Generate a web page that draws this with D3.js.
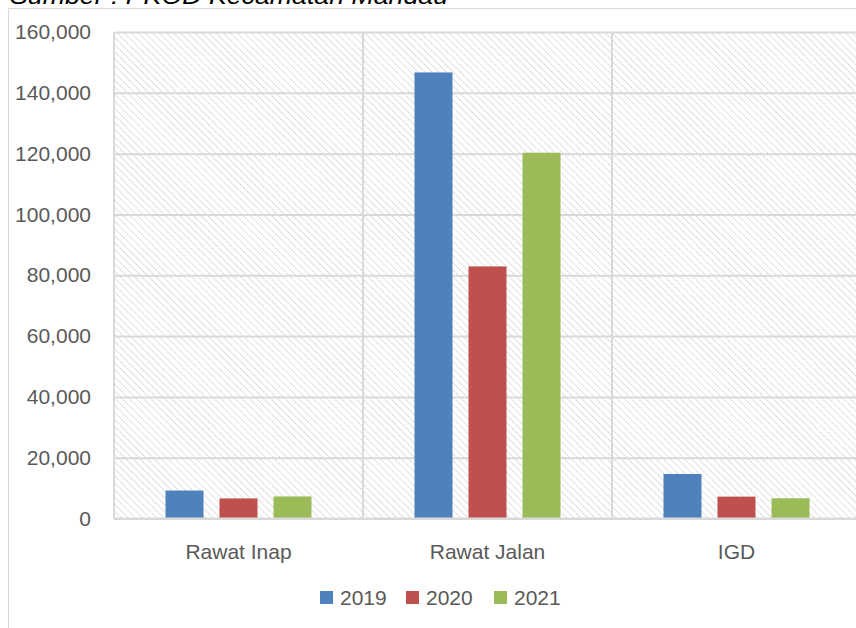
<!DOCTYPE html>
<html>
<head>
<meta charset="utf-8">
<script src="https://cdn.jsdelivr.net/npm/d3@7"></script>
<style>
  html, body { margin: 0; padding: 0; background: #fff; }
  svg { display: block; }
  text { font-family: "Liberation Sans", Arial, sans-serif; }
</style>
</head>
<body>
<svg id="chart" width="856" height="628"></svg>
<script>
const categories = ["Rawat Inap", "Rawat Jalan", "IGD"];
const seriesNames = ["2019", "2020", "2021"];
const values2019 = [9200, 146700, 14650];
const values2020 = [6600, 82900, 7200];
const values2021 = [7250, 120300, 6650];
const seriesColors = ["#4f81bd", "#c0504d", "#9bbb59"];
const yTicks = [0, 20000, 40000, 60000, 80000, 100000, 120000, 140000, 160000];
const sourceText = "Sumber : PKOD Kecamatan Mandau";

const seriesValues = [values2019, values2020, values2021];
const svg = d3.select("#chart");

const plot = { left: 114, right: 861, top: 32, bottom: 518.5 };

const x = d3.scaleBand().domain(categories).range([plot.left, plot.right]).padding(0);
const xs = d3.scaleBand().domain(seriesNames).range([0, x.bandwidth()])
  .paddingInner(16 / 54).paddingOuter(0.9535);
const y = d3.scaleLinear().domain([0, 160000]).range([plot.bottom, plot.top]);

// source caption (cut off at top edge, as in the original)
svg.append("text")
  .attr("x", 10).attr("y", 4)
  .attr("font-size", 24).attr("font-style", "italic").attr("fill", "#000")
  .attr("textLength", 438).attr("lengthAdjust", "spacingAndGlyphs")
  .text(sourceText);

// outer chart border
svg.append("path")
  .attr("d", "M8.5,630 L8.5,8.5 L860,8.5")
  .attr("fill", "none").attr("stroke", "#d9d9d9").attr("stroke-width", 1);

// hatch pattern
const defs = svg.append("defs");
const pat = defs.append("pattern")
  .attr("id", "hatch").attr("patternUnits", "userSpaceOnUse")
  .attr("width", 5).attr("height", 5)
  .attr("patternTransform", "rotate(45)");
pat.append("rect").attr("width", 5).attr("height", 5).attr("fill", "#fff");
pat.append("line").attr("x1", 0).attr("y1", 0).attr("x2", 5).attr("y2", 0)
  .attr("stroke", "#cfcfcf").attr("stroke-width", 2).attr("stroke-dasharray", "1.6,0.9");

svg.append("rect")
  .attr("x", plot.left).attr("y", plot.top)
  .attr("width", plot.right - plot.left).attr("height", plot.bottom - plot.top)
  .attr("fill", "url(#hatch)");

// horizontal gridlines + y labels
const yAxis = d3.axisLeft(y).tickValues(yTicks)
  .tickSize(-(plot.right - plot.left))
  .tickPadding(23)
  .tickFormat(d => d3.format(",")(d));
const gy = svg.append("g").attr("transform", `translate(${plot.left},0)`).call(yAxis);
gy.select(".domain").remove();
gy.selectAll(".tick line").attr("stroke", "#d9d9d9").attr("stroke-width", 2);
gy.selectAll(".tick text").attr("font-size", 21).attr("fill", "#595959")
  .attr("font-family", "Liberation Sans, Arial, sans-serif");

// vertical category dividers
svg.append("g").selectAll("line")
  .data(categories)
  .join("line")
  .attr("x1", d => x(d)).attr("x2", d => x(d))
  .attr("y1", plot.top).attr("y2", plot.bottom)
  .attr("stroke", "#d9d9d9").attr("stroke-width", 2);

// bars
const groups = svg.append("g").selectAll("g")
  .data(categories).join("g")
  .attr("transform", d => `translate(${x(d)},0)`);
groups.selectAll("rect")
  .data((c, ci) => seriesNames.map((s, si) => ({ s, si, v: seriesValues[si][ci] })))
  .join("rect")
  .attr("x", d => xs(d.s))
  .attr("width", xs.bandwidth())
  .attr("y", d => y(d.v))
  .attr("height", d => y(0) - y(d.v))
  .attr("fill", d => seriesColors[d.si]);

// baseline
svg.append("line")
  .attr("x1", plot.left).attr("x2", plot.right)
  .attr("y1", y(0)).attr("y2", y(0))
  .attr("stroke", "#d9d9d9").attr("stroke-width", 2);

// x axis labels
const xAxis = d3.axisBottom(x).tickSize(0).tickPadding(26);
const gx = svg.append("g").attr("transform", `translate(0,${plot.bottom})`).call(xAxis);
gx.select(".domain").remove();
gx.selectAll(".tick text").attr("font-size", 21).attr("fill", "#595959")
  .attr("font-family", "Liberation Sans, Arial, sans-serif");

// legend
const legendX = [320, 406, 494];
const leg = svg.append("g").selectAll("g").data(seriesNames).join("g")
  .attr("transform", (d, i) => `translate(${legendX[i]},591)`);
leg.append("rect").attr("width", 13).attr("height", 13)
  .attr("fill", (d, i) => seriesColors[i]);
leg.append("text").attr("x", 20).attr("y", 6.5).attr("dy", "0.35em")
  .attr("font-size", 21).attr("fill", "#595959").text(d => d);
</script>
</body>
</html>
